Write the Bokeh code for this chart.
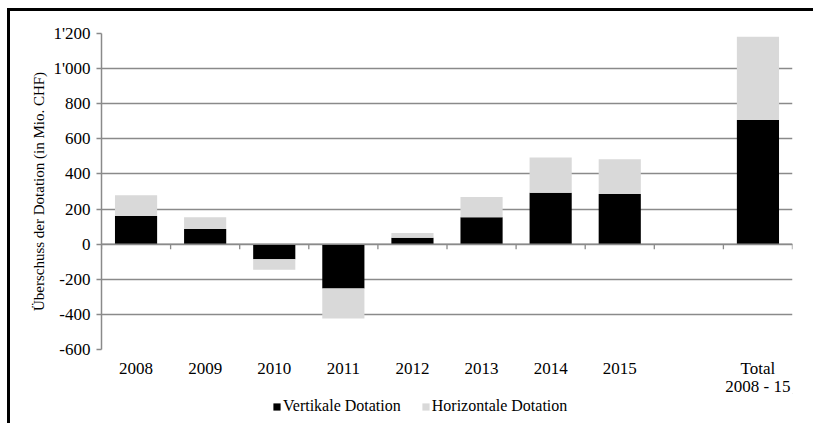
from bokeh.plotting import figure
from bokeh.layouts import column
from bokeh.models import FactorRange, Range1d, FixedTicker, Legend, LegendItem, ColumnDataSource, Span
from bokeh.embed import file_html
from bokeh.resources import INLINE

# ---- data ----
categories = ["2008", "2009", "2010", "2011", "2012", "2013", "2014", "2015", "Total\n2008 - 15"]
vertikale = [160, 86, -86, -253, 36, 153, 293, 286, 707]
horizontale = [118, 67, -60, -171, 27, 116, 200, 198, 474]
y_ticks = [-600, -400, -200, 0, 200, 400, 600, 800, 1000, 1200]
y_tick_labels = ["-600", "-400", "-200", "0", "200", "400", "600", "800", "1'000", "1'200"]
series_names = ["Vertikale Dotation", "Horizontale Dotation"]

FONT = "Liberation Serif"
GRID = "#8a8a8a"
BLACK, GREY = "black", "#d9d9d9"

factors = categories[:8] + [" "] + categories[8:]
W, H = 803, 394
ML, MR, MT, MB = 91, 21, 22, 56
frame_h = H - MT - MB

p = figure(width=W, height=H, x_range=FactorRange(*factors, range_padding=0, factor_padding=0),
           y_range=Range1d(y_ticks[0], y_ticks[-1]), output_backend="svg", toolbar_location=None,
           min_border_left=ML, min_border_right=MR, min_border_top=MT, min_border_bottom=MB)
p.outline_line_color = None
p.background_fill_color = "white"
p.border_fill_color = "white"

# grid
p.xgrid.grid_line_color = None
p.ygrid.ticker = FixedTicker(ticks=y_ticks)
p.ygrid.grid_line_color = GRID
p.ygrid.grid_line_width = 1.5

# bars
h_top = [a + b for a, b in zip(vertikale, horizontale)]
src = ColumnDataSource(dict(x=categories, v_top=vertikale, h_top=h_top, zero=[0] * len(categories)))
p.vbar(x="x", bottom="zero", top="v_top", width=0.61, source=src, fill_color=BLACK, line_color=None)
p.vbar(x="x", bottom="v_top", top="h_top", width=0.61, source=src, fill_color=GREY, line_color=None)

# zero axis line with category boundary ticks
p.add_layout(Span(location=0, dimension="width", line_color=GRID, line_width=1.5))
bounds = list(range(len(factors) + 1))
tick_len = 5 * (y_ticks[-1] - y_ticks[0]) / frame_h
p.segment(x0=bounds, y0=[0] * len(bounds), x1=bounds, y1=[-tick_len] * len(bounds),
          line_color=GRID, line_width=1.3)

# y axis
ya = p.yaxis[0]
ya.ticker = FixedTicker(ticks=y_ticks)
ya.major_label_overrides = {t: l for t, l in zip(y_ticks, y_tick_labels)}
ya.axis_line_color = GRID
ya.axis_line_width = 1.5
ya.major_tick_line_color = GRID
ya.major_tick_line_width = 1.3
ya.major_tick_out = 5
ya.major_tick_in = 0
ya.minor_tick_line_color = None
ya.major_label_standoff = 6
ya.major_label_text_font = FONT
ya.major_label_text_font_size = "17px"
ya.major_label_text_color = "black"
ya.axis_label = "Überschuss der Dotation (in Mio. CHF)"
ya.axis_label_text_font = FONT
ya.axis_label_text_font_size = "15px"
ya.axis_label_text_font_style = "normal"
ya.axis_label_text_color = "black"
ya.axis_label_standoff = 3

# x axis
xa = p.xaxis[0]
xa.axis_line_color = None
xa.major_tick_line_color = None
xa.major_tick_out = 0
xa.major_tick_in = 0
xa.major_label_standoff = 9
xa.major_label_text_font = FONT
xa.major_label_text_font_size = "17px"
xa.major_label_text_line_height = 0.95
xa.major_label_text_color = "black"

# legend strip (separate figure so the legend is not clipped by the plot frame)
HL = 30
pl = figure(width=W, height=HL, x_range=Range1d(0, 1), y_range=Range1d(0, 1),
            x_axis_type=None, y_axis_type=None, output_backend="svg", toolbar_location=None,
            min_border=0)
pl.outline_line_color = None
pl.background_fill_alpha = 0
pl.border_fill_alpha = 0
pl.styles = {"margin-top": "-12px"}
# swatch glyphs placed outside the visible range; they only feed the legend
g1 = pl.vbar(x=[5], bottom=[5], top=[5], width=0.1, fill_color=BLACK, line_color=None)
g2 = pl.vbar(x=[5], bottom=[5], top=[5], width=0.1, fill_color=GREY, line_color=None)
legend = Legend(items=[LegendItem(label=series_names[0], renderers=[g1]),
                       LegendItem(label=series_names[1], renderers=[g2])],
                location=(171, 8), orientation="horizontal",
                glyph_width=9, glyph_height=9, label_standoff=2, spacing=20,
                padding=0, margin=0, border_line_color=None, background_fill_alpha=0,
                label_text_font=FONT, label_text_font_size="16px", label_text_color="black")
pl.add_layout(legend, "center")

layout = column(p, pl, spacing=0)
layout.styles = {"margin-left": "7px", "margin-top": "8px",
                 "border-left": "3px solid black", "border-top": "3px solid black"}

open("out.html", "w").write(file_html(layout, INLINE))
